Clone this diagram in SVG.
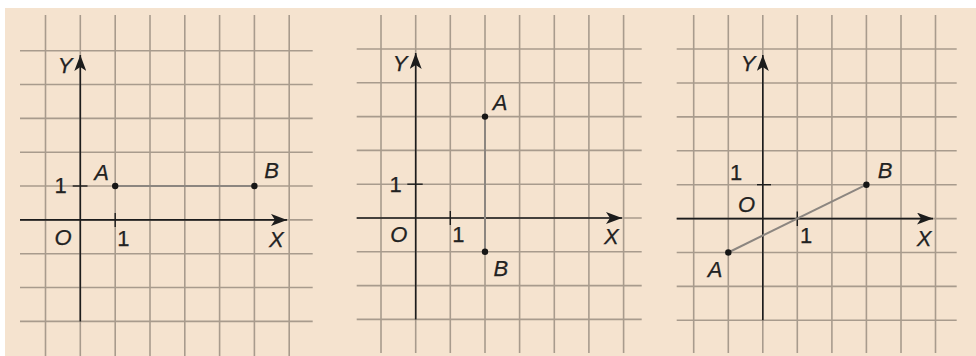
<svg xmlns="http://www.w3.org/2000/svg" width="976" height="356" viewBox="0 0 976 356">
<style>
.grid line{stroke:#a89b8d;stroke-width:1.6}
.axis{stroke:#1c1c1c;stroke-width:1.6;fill:none}
.seg{stroke:#8c8680;stroke-width:2}
.tick{stroke:#1c1c1c;stroke-width:1.4}
.dot{fill:#161616}
.lbl{font-family:"Liberation Sans",Arial,sans-serif;font-size:22px;fill:#222;stroke:#222;stroke-width:0.25;text-anchor:middle}
.it{font-style:italic}
</style>
<defs>
<marker id="arr" viewBox="0 0 16 12" refX="16" refY="6" markerWidth="16" markerHeight="12" markerUnits="userSpaceOnUse" orient="auto">
<path d="M0,0 L16,6 L0,12 L4,6 Z" fill="#1c1c1c"/>
</marker>
</defs>
<rect x="0" y="0" width="976" height="356" fill="#ffffff"/>
<rect x="5" y="8" width="971" height="348" fill="#f5e3cf"/>

<g id="panel1">
<g class="grid">
<line x1="45.5" y1="15" x2="45.5" y2="356"/><line x1="80.3" y1="15" x2="80.3" y2="356"/><line x1="115.2" y1="15" x2="115.2" y2="356"/><line x1="150" y1="15" x2="150" y2="356"/><line x1="184.8" y1="15" x2="184.8" y2="356"/><line x1="219.6" y1="15" x2="219.6" y2="356"/><line x1="254.4" y1="15" x2="254.4" y2="356"/><line x1="289.2" y1="15" x2="289.2" y2="356"/>
<line x1="20" y1="50.7" x2="312.7" y2="50.7"/><line x1="20" y1="84.5" x2="312.7" y2="84.5"/><line x1="20" y1="118.4" x2="312.7" y2="118.4"/><line x1="20" y1="152.2" x2="312.7" y2="152.2"/><line x1="20" y1="186" x2="312.7" y2="186"/><line x1="20" y1="219.9" x2="312.7" y2="219.9"/><line x1="20" y1="253.7" x2="312.7" y2="253.7"/><line x1="20" y1="287.5" x2="312.7" y2="287.5"/><line x1="20" y1="321.4" x2="312.7" y2="321.4"/>
</g>
<line class="axis" x1="20" y1="219.9" x2="287" y2="219.9" marker-end="url(#arr)"/>
<line class="axis" x1="80.3" y1="321.4" x2="80.3" y2="55" marker-end="url(#arr)"/>
<line class="tick" x1="72.7" y1="186" x2="87.5" y2="186"/>
<line class="tick" x1="115.2" y1="213" x2="115.2" y2="227"/>
<line class="seg" x1="115.2" y1="186" x2="254.4" y2="186"/>
<circle class="dot" cx="115.2" cy="186" r="3.2"/>
<circle class="dot" cx="254.4" cy="186" r="3.2"/>
<g class="lbl">
<text class="it" x="65" y="73.3">Y</text>
<text x="60.5" y="193.3">1</text>
<text class="it" x="101.7" y="180">A</text>
<text class="it" x="271.7" y="178">B</text>
<text class="it" x="63" y="245">O</text>
<text x="123.3" y="246">1</text>
<text class="it" x="276.3" y="247.3">X</text>
</g>
</g>

<g id="panel2">
<g class="grid">
<line x1="381" y1="15" x2="381" y2="353"/><line x1="415.7" y1="15" x2="415.7" y2="353"/><line x1="450.3" y1="15" x2="450.3" y2="353"/><line x1="485" y1="15" x2="485" y2="353"/><line x1="519.6" y1="15" x2="519.6" y2="353"/><line x1="554.3" y1="15" x2="554.3" y2="353"/><line x1="588.9" y1="15" x2="588.9" y2="353"/><line x1="623.6" y1="15" x2="623.6" y2="353"/>
<line x1="356.7" y1="49" x2="641.7" y2="49"/><line x1="356.7" y1="82.8" x2="641.7" y2="82.8"/><line x1="356.7" y1="116.6" x2="641.7" y2="116.6"/><line x1="356.7" y1="150.4" x2="641.7" y2="150.4"/><line x1="356.7" y1="184.2" x2="641.7" y2="184.2"/><line x1="356.7" y1="218" x2="641.7" y2="218"/><line x1="356.7" y1="251.8" x2="641.7" y2="251.8"/><line x1="356.7" y1="285.6" x2="641.7" y2="285.6"/><line x1="356.7" y1="319.4" x2="641.7" y2="319.4"/>
</g>
<line class="axis" x1="356.7" y1="218" x2="622" y2="218" marker-end="url(#arr)"/>
<line class="axis" x1="415.7" y1="319.4" x2="415.7" y2="53" marker-end="url(#arr)"/>
<line class="tick" x1="407.3" y1="184.2" x2="422.7" y2="184.2"/>
<line class="tick" x1="450.3" y1="211" x2="450.3" y2="225"/>
<line class="seg" x1="485" y1="116.6" x2="485" y2="251.8"/>
<circle class="dot" cx="485" cy="116.6" r="3.2"/>
<circle class="dot" cx="485" cy="251.8" r="3.2"/>
<g class="lbl">
<text class="it" x="400" y="71">Y</text>
<text x="395.5" y="191.7">1</text>
<text class="it" x="500" y="110">A</text>
<text class="it" x="398.7" y="241.7">O</text>
<text x="458.3" y="242.3">1</text>
<text class="it" x="611.3" y="244.3">X</text>
<text class="it" x="500.8" y="276">B</text>
</g>
</g>

<g id="panel3">
<g class="grid">
<line x1="693.7" y1="15" x2="693.7" y2="353"/><line x1="728.3" y1="15" x2="728.3" y2="353"/><line x1="762.8" y1="15" x2="762.8" y2="353"/><line x1="797.3" y1="15" x2="797.3" y2="353"/><line x1="831.9" y1="15" x2="831.9" y2="353"/><line x1="866.4" y1="15" x2="866.4" y2="353"/><line x1="901" y1="15" x2="901" y2="353"/><line x1="935.5" y1="15" x2="935.5" y2="353"/>
<line x1="676.7" y1="49" x2="956.7" y2="49"/><line x1="676.7" y1="83" x2="956.7" y2="83"/><line x1="676.7" y1="116.9" x2="956.7" y2="116.9"/><line x1="676.7" y1="150.8" x2="956.7" y2="150.8"/><line x1="676.7" y1="184.7" x2="956.7" y2="184.7"/><line x1="676.7" y1="218.6" x2="956.7" y2="218.6"/><line x1="676.7" y1="252.5" x2="956.7" y2="252.5"/><line x1="676.7" y1="286.4" x2="956.7" y2="286.4"/><line x1="676.7" y1="320.3" x2="956.7" y2="320.3"/>
</g>
<line class="axis" x1="676.7" y1="218.6" x2="933" y2="218.6" marker-end="url(#arr)"/>
<line class="axis" x1="762.8" y1="320.3" x2="762.8" y2="55" marker-end="url(#arr)"/>
<line class="tick" x1="757" y1="184.7" x2="771" y2="184.7"/>
<line class="tick" x1="797.3" y1="211.5" x2="797.3" y2="226"/>
<line class="seg" x1="728.3" y1="252.5" x2="866.4" y2="184.7"/>
<circle class="dot" cx="728.3" cy="252.5" r="3.2"/>
<circle class="dot" cx="866.4" cy="184.7" r="3.2"/>
<g class="lbl">
<text class="it" x="748" y="71">Y</text>
<text x="736" y="180">1</text>
<text class="it" x="885" y="178.3">B</text>
<text class="it" x="746.5" y="211.7">O</text>
<text x="806" y="243.3">1</text>
<text class="it" x="924" y="246">X</text>
<text class="it" x="715" y="277.3">A</text>
</g>
</g>
</svg>
